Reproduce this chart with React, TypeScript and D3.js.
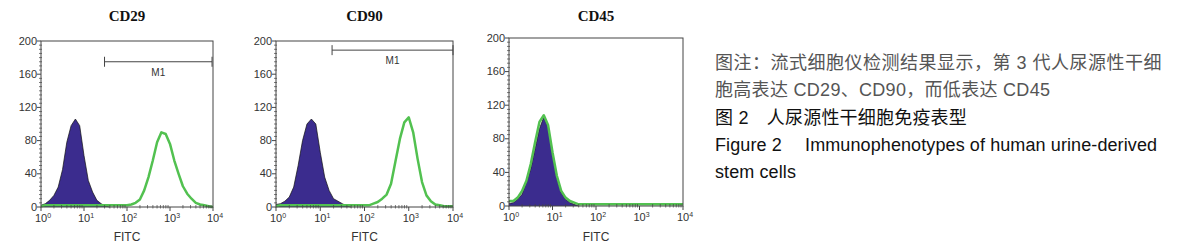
import React from 'react';
import * as d3 from 'd3';

// bins on a log scale, 0.1 decade apart (10^0 .. 10^4)
const binExp = d3.range(0, 41).map(i => i / 10);

const titles = ['CD29', 'CD90', 'CD45'];

// isotype control (filled purple)
const control = [
  [2, 4, 8, 14, 24, 45, 78, 98, 106, 98, 62, 32, 18, 8, 4, 1, 0, 0, 0, 0, 0, 0, 0, 0, 0, 0, 0, 0, 0, 0, 0, 0, 0, 0, 0, 0, 0, 0, 0, 0, 0],
  [3, 4, 7, 12, 24, 50, 80, 100, 106, 100, 66, 36, 20, 10, 7, 4, 1, 0, 0, 0, 0, 0, 0, 0, 0, 0, 0, 0, 0, 0, 0, 0, 0, 0, 0, 0, 0, 0, 0, 0, 0],
  [3, 4, 8, 14, 28, 44, 68, 92, 106, 94, 62, 34, 16, 8, 4, 2, 0, 0, 0, 0, 0, 0, 0, 0, 0, 0, 0, 0, 0, 0, 0, 0, 0, 0, 0, 0, 0, 0, 0, 0, 0],
];

// stained sample (green line)
const sample = [
  [1, 2, 2, 2, 2, 2, 2, 2, 2, 2, 2, 2, 2, 2, 2, 2, 2, 2, 2, 2, 2, 3, 5, 9, 20, 36, 56, 78, 90, 88, 76, 56, 40, 25, 16, 10, 5, 3, 2, 1, 0],
  [1, 2, 2, 2, 2, 2, 2, 2, 2, 2, 2, 2, 2, 2, 2, 2, 2, 2, 2, 2, 2, 2, 4, 6, 10, 15, 28, 55, 82, 102, 108, 90, 58, 30, 14, 7, 3, 2, 1, 1, 1],
  [6, 6, 10, 18, 30, 50, 76, 100, 108, 96, 64, 36, 18, 10, 6, 4, 2, 2, 2, 2, 2, 2, 2, 2, 2, 2, 2, 2, 2, 2, 2, 2, 2, 2, 2, 2, 2, 2, 2, 2, 2],
];

// M1 gate: [start, end] in FITC units and the count level it is drawn at
const gateRange = [[30, 9500], [18.5, 10000], null];
const gateLevel = [175, 189, 0];

const yTicks = [0, 40, 80, 120, 160, 200];
const xTicks = [1, 10, 100, 1000, 10000];

const caption = [
  { text: '图注：流式细胞仪检测结果显示，第 3 代人尿源性干细', color: '#555', spacing: 0.5 },
  { text: '胞高表达 CD29、CD90，而低表达 CD45', color: '#555', spacing: 0.3 },
  { text: '图 2\u3000人尿源性干细胞免疫表型', color: '#111', spacing: 0.2 },
  { text: 'Figure 2\u3000 Immunophenotypes of human urine-derived', color: '#111', spacing: 0.1 },
  { text: 'stem cells', color: '#111', spacing: 0.1 },
];

const panels = [
  { left: 41, right: 213, top: 41, bottom: 207 },
  { left: 276, right: 453, top: 41, bottom: 207 },
  { left: 509, right: 683, top: 38, bottom: 206 },
];

const tickFont = "'Liberation Sans Narrow', 'Liberation Sans', Arial, sans-serif";

function Panel({ idx }: { idx: number }) {
  const p = panels[idx];
  const x = d3.scaleLog().domain([1, 10000]).range([p.left, p.right]);
  const y = d3.scaleLinear().domain([0, 200]).range([p.bottom, p.top]);

  const pts = binExp.map((e, i) => ({ v: Math.pow(10, e), c: control[idx][i], s: sample[idx][i] }));
  const lastIdx = d3.max(pts.map((d, i) => (d.c > 0 ? i : 0))) || 0;
  const ctrlPts = pts.slice(0, lastIdx + 2);

  const area = d3.area<any>().x(d => x(d.v)).y0(y(0)).y1(d => y(d.c));
  const outline = d3.line<any>().x(d => x(d.v)).y(d => y(d.c));
  const line = d3.line<any>().x(d => x(d.v)).y(d => y(d.s));

  const minorY = d3.range(0, 201, 5).filter(v => v % 40 !== 0);
  const minorX: number[] = [];
  for (let dec = 0; dec < 4; dec++) {
    for (let k = 2; k < 10; k++) minorX.push(k * Math.pow(10, dec));
  }

  const gate = gateRange[idx];
  const cx = (p.left + p.right) / 2;

  return (
    <g>
      <text x={cx} y={21} textAnchor="middle" fontFamily="'Liberation Serif', 'Times New Roman', serif"
        fontWeight="bold" fontSize={15} fill="#111">{titles[idx]}</text>

      <path d={area(ctrlPts) || ''} fill="#3b2c8e" />
      <path d={outline(ctrlPts) || ''} fill="none" stroke="#111" strokeWidth={0.7} />
      <path d={line(pts) || ''} fill="none" stroke="#52c150" strokeWidth={2.5} strokeLinejoin="round" />

      {/* frame */}
      <rect x={p.left} y={p.top} width={p.right - p.left} height={p.bottom - p.top}
        fill="none" stroke="#444" strokeWidth={1} />

      {/* y axis */}
      {minorY.map(v => (
        <line key={'my' + v} x1={p.left - 2} x2={p.left + 1} y1={y(v)} y2={y(v)} stroke="#444" strokeWidth={0.7} />
      ))}
      {yTicks.map(v => (
        <g key={'y' + v}>
          <line x1={p.left - 4} x2={p.left} y1={y(v)} y2={y(v)} stroke="#444" strokeWidth={1} />
          <text x={p.left - 4} y={y(v) + 3.5} textAnchor="end" fontFamily={tickFont} fontSize={11} fill="#333">{v}</text>
        </g>
      ))}

      {/* x axis */}
      {minorX.map(v => (
        <line key={'mx' + v} x1={x(v)} x2={x(v)} y1={p.bottom - 2} y2={p.bottom + 1.5} stroke="#444" strokeWidth={0.7} />
      ))}
      {xTicks.map((v, i) => (
        <g key={'x' + v}>
          <line x1={x(v)} x2={x(v)} y1={p.bottom} y2={p.bottom + 4} stroke="#444" strokeWidth={1} />
          <text x={x(v) + 2} y={p.bottom + 15} textAnchor="middle" fontFamily={tickFont} fontSize={11} fill="#333">
            10<tspan fontSize={7} dy={-4}>{i}</tspan>
          </text>
        </g>
      ))}
      <text x={cx} y={241} textAnchor="middle" fontFamily={tickFont} fontSize={12} fill="#333">FITC</text>

      {gate && (
        <g stroke="#444" strokeWidth={1}>
          <line x1={x(gate[0])} x2={x(gate[1])} y1={y(gateLevel[idx])} y2={y(gateLevel[idx])} />
          <line x1={x(gate[0])} x2={x(gate[0])} y1={y(gateLevel[idx]) - 5} y2={y(gateLevel[idx]) + 5} />
          <line x1={x(gate[1])} x2={x(gate[1])} y1={y(gateLevel[idx]) - 5} y2={y(gateLevel[idx]) + 5} />
        </g>
      )}
      {gate && (
        <text x={x(Math.sqrt(gate[0] * gate[1]))} y={y(gateLevel[idx]) + 14} textAnchor="middle"
          fontFamily={tickFont} fontSize={10} fill="#333">M1</text>
      )}
    </g>
  );
}

export default function App() {
  const lineY = [69, 96, 124, 151, 178];
  return (
    <svg width={1191} height={250} style={{ position: 'absolute', left: 0, top: 0, background: '#fff' }}>
      <rect width={1191} height={250} fill="#fff" />
      {panels.map((_, i) => <Panel key={i} idx={i} />)}
      {caption.map((c, i) => (
        <text key={i} x={715} y={lineY[i]} fontFamily="'Liberation Sans', Arial, 'Noto Sans CJK SC', sans-serif"
          fontSize={18} letterSpacing={c.spacing} fill={c.color}>{c.text}</text>
      ))}
    </svg>
  );
}
